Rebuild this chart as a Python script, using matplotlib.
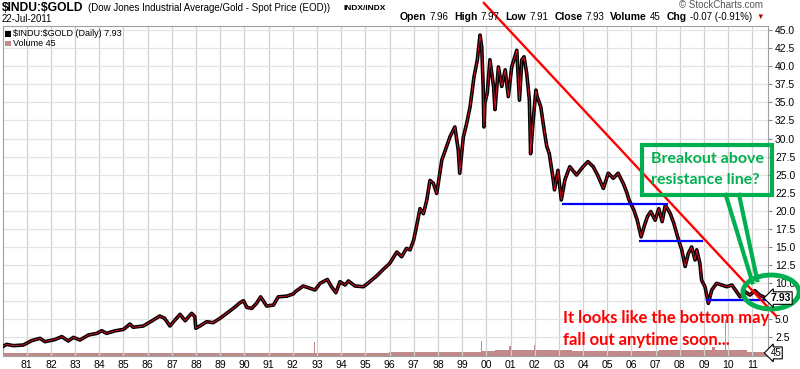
import matplotlib
matplotlib.use("Agg")
import matplotlib.pyplot as plt
from matplotlib.patches import Ellipse, Rectangle

# Dow / Gold ratio (fractional year, ratio)
years = [1980.0, 1980.17, 1980.45, 1980.86, 1981.2, 1981.55, 1981.76, 1982.17, 1982.45, 1982.72,
         1982.93, 1983.2, 1983.55, 1983.9, 1984.1, 1984.3, 1984.65, 1985.0, 1985.27, 1985.4,
         1985.82, 1986.17, 1986.5, 1986.7, 1986.92, 1987.13, 1987.34, 1987.55, 1987.82, 1987.95,
         1987.99, 1988.16, 1988.44, 1988.71, 1988.99, 1989.27, 1989.54, 1989.82, 1989.96, 1990.1,
         1990.3, 1990.5, 1990.67, 1990.92, 1991.2, 1991.4, 1991.75, 1992.02, 1992.1, 1992.43,
         1992.71, 1992.92, 1993.13, 1993.43, 1993.6, 1993.78, 1993.95, 1994.16, 1994.3, 1994.57,
         1994.92, 1995.1, 1995.47, 1995.74, 1996.0, 1996.3, 1996.5, 1996.7, 1996.85, 1997.0,
         1997.1, 1997.2, 1997.26, 1997.4, 1997.54, 1997.67, 1997.81, 1997.95, 1998.16, 1998.36,
         1998.5, 1998.7, 1998.84, 1998.9, 1999.05, 1999.19, 1999.33, 1999.49, 1999.63, 1999.74,
         1999.81, 1999.87, 1999.9, 1999.94, 2000.04, 2000.15, 2000.3, 2000.36, 2000.5, 2000.64,
         2000.78, 2000.91, 2001.05, 2001.26, 2001.37, 2001.47, 2001.56, 2001.67, 2001.78, 2001.83,
         2001.94, 2002.05, 2002.1, 2002.25, 2002.4, 2002.5, 2002.6, 2002.75, 2002.82, 2002.96,
         2003.1, 2003.25, 2003.45, 2003.73, 2004.0, 2004.2, 2004.42, 2004.6, 2004.84, 2005.04,
         2005.25, 2005.45, 2005.66, 2005.8, 2005.9, 2006.1, 2006.24, 2006.4, 2006.52, 2006.66,
         2006.8, 2006.98, 2007.13, 2007.27, 2007.4, 2007.6, 2007.75, 2007.9, 2008.08, 2008.22,
         2008.35, 2008.49, 2008.63, 2008.7, 2008.83, 2008.9, 2009.04, 2009.18, 2009.32, 2009.52,
         2009.73, 2009.94, 2010.15, 2010.35, 2010.49, 2010.7, 2010.9, 2011.1, 2011.3, 2011.5,
         2011.6]
ratio = [1.2, 1.53, 1.35, 1.44, 2.04, 2.36, 1.9, 2.2, 2.6, 2.0,
         2.5, 2.13, 2.82, 3.05, 3.42, 3.05, 3.4, 3.6, 4.34, 3.9,
         4.07, 4.76, 5.45, 5.13, 4.07, 4.9, 5.68, 4.8, 5.82, 5.37,
         3.75, 4.07, 4.66, 4.53, 5.13, 5.82, 6.51, 7.29, 7.57, 6.65,
         6.5, 7.2, 8.1, 6.83, 6.97, 8.1, 8.2, 8.5, 8.8, 9.6,
         9.28, 9.05, 9.97, 10.5, 9.5, 8.67, 10.2, 9.74, 10.3, 9.6,
         9.5, 9.97, 11.0, 11.9, 12.7, 14.3, 13.65, 14.8, 14.6, 16.0,
         17.6, 19.3, 20.3, 19.6, 21.5, 24.2, 23.8, 22.4, 27.0, 28.9,
         30.25, 31.6, 28.4, 25.2, 30.2, 32.1, 34.4, 38.5, 40.9, 44.3,
         42.7, 37.2, 31.6, 34.9, 36.3, 40.9, 37.2, 34.0, 39.9, 37.2,
         39.5, 35.8, 39.9, 42.2, 35.3, 40.9, 41.3, 39.0, 35.3, 27.9,
         32.6, 36.7, 35.8, 34.4, 31.0, 28.9, 27.95, 24.7, 22.9, 25.6,
         21.5, 24.3, 26.1, 24.95, 26.1, 26.8, 26.1, 24.95, 23.1, 25.2,
         24.5, 25.2, 23.8, 22.6, 21.5, 20.1, 18.7, 16.4, 17.8, 19.2,
         19.9, 18.7, 20.3, 18.5, 20.8, 19.65, 18.3, 16.5, 14.6, 12.3,
         14.1, 15.0, 13.2, 14.6, 12.7, 10.4, 9.5, 7.2, 9.05, 9.97,
         9.74, 9.5, 9.74, 8.8, 8.1, 8.8, 8.35, 8.95, 8.35, 8.03,
         7.93]

# volume (arbitrary units): flat baseline with a few spikes
vol_years = [1980.0, 1992.85, 1992.9, 1992.95, 1999.0, 1999.75, 1999.8, 1999.85, 2000.9,
             2001.0, 2001.1, 2001.95, 2002.0, 2002.05, 2005.0, 2009.3, 2009.4, 2009.5,
             2009.85, 2009.9, 2009.95, 2011.6]
vol_vals = [3, 3, 14, 3, 4, 4, 15, 5, 6, 10, 6, 6, 11, 6, 5, 6, 9, 6, 6, 36, 6, 4]

# support / resistance lines drawn on the chart
support_levels = [20.9, 15.87, 7.66]
support_start = [2003.17, 2006.35, 2009.11]
support_end = [2007.47, 2008.92, 2011.56]
resist_x = [1999.9, 2011.98]
resist_y = [48.74, 5.45]

year_ticks = list(range(1981, 2012))
price_ticks = [2.5 * i for i in range(1, 19)]

W, H = 800, 369
plt.rcParams["font.family"] = ["Liberation Sans", "DejaVu Sans"]
fig = plt.figure(figsize=(W / 100, H / 100), dpi=100)
fig.patch.set_facecolor("white")


def fx(px):
    return px / W


def fy(py):
    return 1 - py / H


ax = fig.add_axes([fx(3), fy(356), fx(768) - fx(3), fy(26) - fy(356)])
ax.set_xlim(1980.02, 2011.645)
ax.set_ylim(-0.08, 45.56)

# volume on a hidden twin axis
vax = ax.twinx()
vax.set_ylim(0, 330)
vax.fill_between(vol_years, 0, vol_vals, step="mid", color="#c08a8a", lw=0)
vax.set_axis_off()

ax.set_zorder(vax.get_zorder() + 1)
ax.patch.set_visible(False)

ax.set_xticks(year_ticks)
ax.set_xticklabels([f"{y % 100:02d}" for y in year_ticks], fontsize=7.5)
ax.set_yticks(price_ticks)
# the 7.5 label sits under the last-value tag on the original
ax.set_yticklabels(["" if v == 7.5 else f"{v:.1f}" for v in price_ticks], fontsize=7.5)
ax.yaxis.tick_right()
ax.tick_params(axis="x", length=0, pad=3)
ax.tick_params(axis="y", length=3, pad=2, color="#888888")
ax.grid(axis="x", color="#d0d0d0", lw=0.9)
ax.grid(axis="y", color="#e3e3e3", lw=0.9)
for s in ax.spines.values():
    s.set_color("#a0a0a0")
    s.set_linewidth(0.8)

ax.plot(years, ratio, color="black", lw=2.6, zorder=3)
ax.plot(years, ratio, color="#e8102a", lw=0.6, zorder=4)

for lvl, x0, x1 in zip(support_levels, support_start, support_end):
    ax.plot([x0, x1], [lvl, lvl], color="#0000ff", lw=1.6, zorder=5)
ax.plot(resist_x, resist_y, color="#ff0000", lw=1.7, zorder=6, clip_on=False)

green = "#00b050"
ax.add_patch(Rectangle((2006.42, 22.2), 5.37, 6.9, fill=False, ec=green, lw=3,
                       clip_on=False, zorder=8))
ax.text(2006.8, 27.2, "Breakout above", color=green, fontsize=11.5, fontweight="bold",
        family="Lato", va="center", ha="left", zorder=9, clip_on=False)
ax.text(2006.8, 24.2, "resistance line?", color=green, fontsize=11.5, fontweight="bold",
        family="Lato", va="center", ha="left", zorder=9, clip_on=False)
ax.plot([2009.9, 2011.0], [22.2, 10.1], color=green, lw=3, zorder=8, clip_on=False)
ax.plot([2010.45, 2011.2], [22.2, 10.4], color=green, lw=3, zorder=8, clip_on=False)
ax.add_patch(Ellipse((2011.77, 8.77), 2.32, 4.7, fill=False, ec=green, lw=3.5,
                     clip_on=False, zorder=10))

ax.text(2003.15, 5.2, "It looks like the bottom may", color="#ff0000", fontsize=12,
        fontweight="bold", family="Lato", va="center", ha="left", zorder=9, clip_on=False)
ax.text(2003.15, 2.2, "fall out anytime soon...", color="#ff0000", fontsize=12,
        fontweight="bold", family="Lato", va="center", ha="left", zorder=9)

# last value / volume tags on the right axis
ax.text(2011.75, 7.93, "7.93", fontsize=7.5, fontweight="bold", va="center", ha="left",
        bbox=dict(boxstyle="larrow,pad=0.12", fc="white", ec="black", lw=0.8),
        zorder=11, clip_on=False)
ax.text(2011.75, 0.35, "45", fontsize=7, va="center", ha="left",
        bbox=dict(boxstyle="larrow,pad=0.1", fc="white", ec="black", lw=0.8),
        zorder=11, clip_on=False)

# in-plot legend
fig.patches.append(Rectangle((fx(5), fy(37)), 6 / W, 6 / H, transform=fig.transFigure,
                             fc="black", ec="none"))
fig.text(fx(13), fy(34), "$INDU:$GOLD (Daily) 7.93", fontsize=6.5, va="center",
         parse_math=False)
fig.patches.append(Rectangle((fx(5), fy(46)), 6 / W, 5 / H, transform=fig.transFigure,
                             fc="#c08a8a", ec="none"))
fig.text(fx(13), fy(43), "Volume 45", fontsize=6.5, va="center")

# header
fig.text(fx(2), fy(8), "$INDU:$GOLD", fontsize=8.7, fontweight="bold", va="center",
         parse_math=False)
fig.text(fx(88), fy(8), "(Dow Jones Industrial Average/Gold - Spot Price (EOD))",
         fontsize=7, va="center")
fig.text(fx(343), fy(8), "INDX/INDX", fontsize=6, fontweight="bold", va="center")
fig.text(fx(2), fy(19), "22-Jul-2011", fontsize=7, va="center")
fig.text(fx(763), fy(5), "\u00a9 StockCharts.com", fontsize=7, color="#555555",
         va="center", ha="right")

# quote line: pieces laid out left to right from measured widths
header = [("Open", True), ("7.96", False), ("High", True), ("7.97", False),
          ("Low", True), ("7.91", False), ("Close", True), ("7.93", False),
          ("Volume", True), ("45", False), ("Chg", True), ("-0.07 (-0.91%)", False)]
renderer = fig.canvas.get_renderer()
px = 400
for txt, bold in header:
    t = fig.text(fx(px), fy(17), txt, fontsize=7.5 if bold else 7,
                 fontweight="bold" if bold else "normal", va="center")
    px += t.get_window_extent(renderer).width + (3 if bold else 6)
fig.text(fx(px + 2), fy(17), "\u25bc", fontsize=5.5, color="#b00000", va="center",
         ha="center")

fig.savefig("out.png", dpi=100)
